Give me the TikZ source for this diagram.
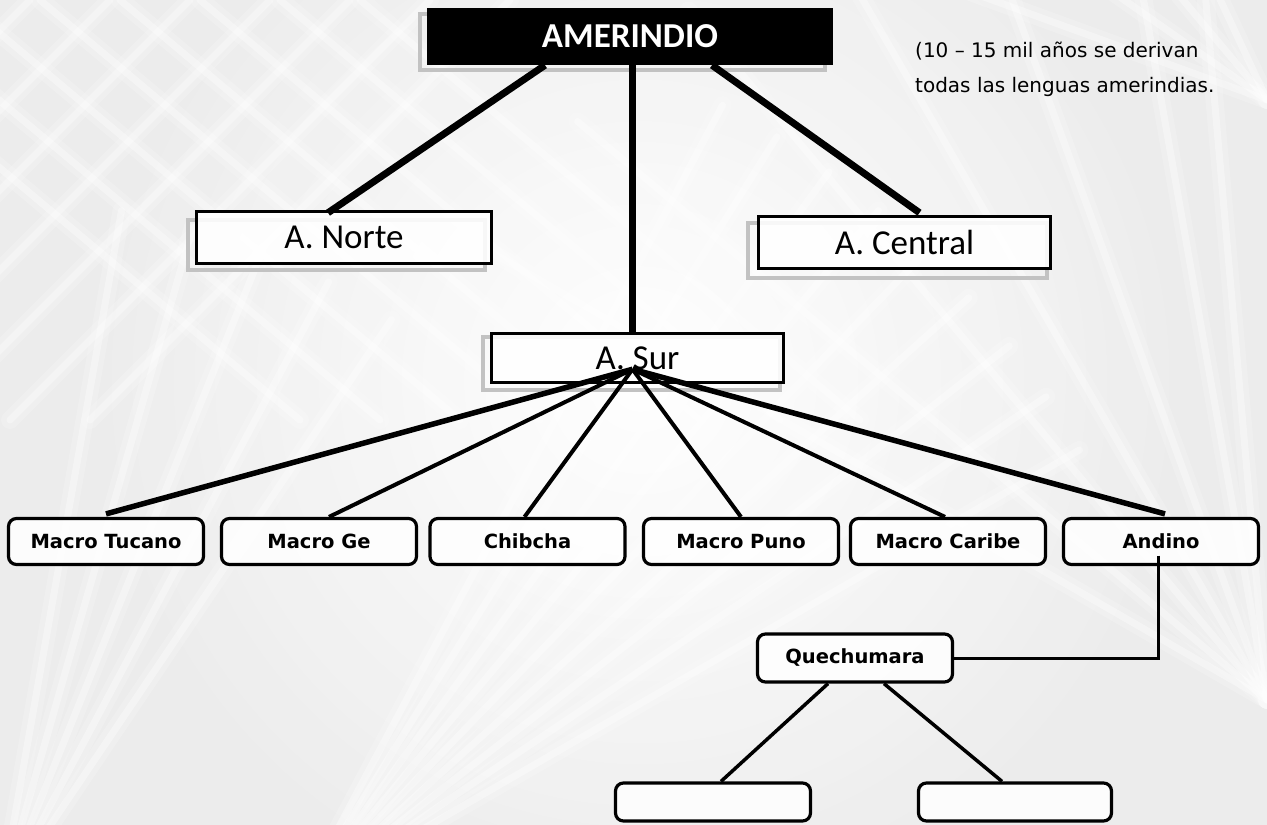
\documentclass[tikz,border=0pt]{standalone}
\usepackage{fontspec}
\setmainfont{Carlito}
\newfontfamily\comicf{DejaVu Sans}
\usetikzlibrary{calc}
\definecolor{bgc}{HTML}{E4E4E4}
\definecolor{shadowc}{HTML}{C2C2C2}
\tikzset{
  calbox/.style={draw, line width=3.5pt, fill=white, fill opacity=0.88, text opacity=1, inner sep=0pt, font=\fontsize{35}{38}\selectfont},
  shadowbox/.style={draw=shadowc, line width=4.5pt},
  cbox/.style={draw, line width=3.2pt, rounded corners=8pt, fill=white, fill opacity=0.85, text opacity=1, inner sep=0pt, font=\comicf\bfseries\fontsize{19.5}{22}\selectfont},
  thick link/.style={line width=7pt},
  fan outer/.style={line width=5.5pt},
  fan inner/.style={line width=4pt},
  thin link/.style={line width=3.5pt},
  streak/.style={white, line cap=round},
  wide streak/.style={streak, line width=18pt, opacity=0.18},
  narrow streak/.style={streak, line width=7pt, opacity=0.35},
}
\begin{document}
\begin{tikzpicture}[x=1pt,y=-1pt]
\useasboundingbox (0,0) rectangle (1267,825);
% background
\fill[bgc] (0,0) rectangle (1267,825);
\begin{scope}
\clip (0,0) rectangle (1267,825);
\shade[inner color=white, outer color=bgc] (640,380) circle (560);
\fill[white, opacity=0.3] (0,0) rectangle (1267,825);
% mesh, top left
\foreach \o in {-200,-120,-40,40,120,200,280,360}{
  \draw[wide streak] (\o,0) -- ++(500,420);
  \draw[narrow streak] (\o,0) -- ++(500,420);
  \draw[wide streak] (\o+150,0) -- ++(-420,420);
  \draw[narrow streak] (\o+150,0) -- ++(-420,420);
}
% fan, bottom left
\foreach \a in {-62,-58,-54,-50,-46,-42,-38,-34,-30}{
  \draw[wide streak] (300,900) -- ++(\a:900);
  \draw[narrow streak] (300,900) -- ++(\a:900);
}
\foreach \a in {-80,-74,-68,-62,-56}{
  \draw[wide streak] (0,900) -- ++(\a:700);
  \draw[narrow streak] (0,900) -- ++(\a:700);
}
% fan, right
\foreach \a in {-150,-140,-130,-120,-110,-100,-95}{
  \draw[wide streak] (1267,700) -- ++(\a:900);
  \draw[narrow streak] (1267,700) -- ++(\a:900);
}
\foreach \a in {200,215,230,245}{
  \draw[wide streak] (1267,100) -- ++(\a:700);
  \draw[narrow streak] (1267,100) -- ++(\a:700);
}
\end{scope}

% shadows
\draw[shadowbox] (420,14) rectangle (825,70);
\draw[shadowbox] (188,220) rectangle (485,270);
\draw[shadowbox] (748,223) rectangle (1047,278);
\draw[shadowbox] (483,337) rectangle (780,390);

% top level
\node[fill=black, text=white, inner sep=0pt, minimum width=406pt, minimum height=57pt, font=\bfseries\fontsize{35}{38}\selectfont] (amer) at (630,36.5) {AMERINDIO};
\node[calbox, minimum width=295pt, minimum height=52pt] (norte) at (344,237.5) {A. Norte};
\node[calbox, minimum width=292pt, minimum height=52pt] (central) at (904.5,242.5) {A. Central};
\node[calbox, minimum width=292pt, minimum height=49pt] (sur) at (637.5,358) {A. Sur};

\node[anchor=base west, align=left, inner sep=0pt, font=\comicf\fontsize{20}{35}\selectfont] (note) at (915,92) {(10 – 15 mil años se derivan\\todas las lenguas amerindias.};

% bottom row
\foreach \n/\x/\t in {tucano/106/Macro Tucano, ge/319/Macro Ge, chibcha/527.5/Chibcha, puno/741/Macro Puno, caribe/948/Macro Caribe, andino/1161/Andino}{
  \node[cbox, minimum width=195pt, minimum height=46pt] (\n) at (\x,541.5) {\t};
}
\node[cbox, minimum width=195pt, minimum height=48pt] (quech) at (855,658) {Quechumara};
\node[cbox, minimum width=195pt, minimum height=38pt] (e1) at (713,802) {};
\node[cbox, minimum width=193pt, minimum height=38pt] (e2) at (1015,802) {};

% connectors
\draw[thick link] ([xshift=-85pt]amer.south) -- ([xshift=-16pt,yshift=-3pt]norte.north);
\draw[thick link] ([xshift=82pt]amer.south) -- ([xshift=15pt,yshift=2pt]central.north);
\draw[thick link] ([xshift=2pt]amer.south) -- ([xshift=-5.5pt]sur.north);

\coordinate (hub) at ([xshift=-5pt,yshift=15pt]sur.south);
\draw[fan outer] (hub) -- ([yshift=3pt]tucano.north);
\draw[fan inner] (hub) -- ([xshift=10pt]ge.north);
\draw[fan inner] (hub) -- ([xshift=-3pt]chibcha.north);
\draw[fan inner] (hub) -- (puno.north);
\draw[fan inner] (hub) -- ([xshift=-3pt]caribe.north);
\draw[fan outer] (hub) -- ([xshift=4pt,yshift=3pt]andino.north);

\draw[line width=3pt] ([xshift=-3pt,yshift=-14pt]andino.center) |- (quech.east);
\draw[thin link] ([xshift=-27pt]quech.south) -- ([xshift=8pt]e1.north);
\draw[thin link] ([xshift=29pt]quech.south) -- ([xshift=-13pt]e2.north);
\end{tikzpicture}
\end{document}
